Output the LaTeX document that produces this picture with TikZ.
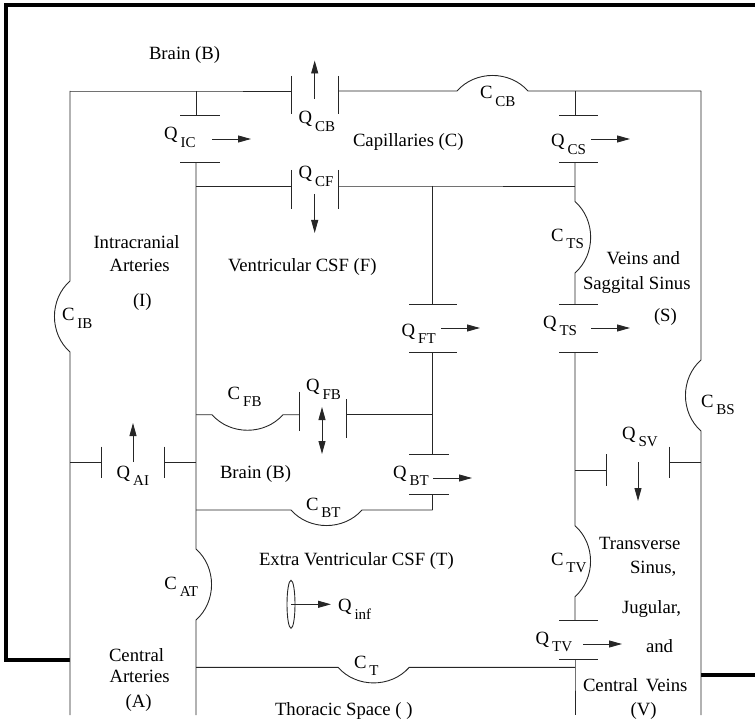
\documentclass[tikz,border=0pt]{standalone}
\usepackage{fontspec}
\setmainfont{Liberation Serif}
\usetikzlibrary{arrows.meta,shapes.geometric}
\newcommand{\subq}[2]{#1\hspace{3pt}\raisebox{-7.6pt}{\fontsize{15}{15}\selectfont #2}}
\tikzset{
  wire/.style={line width=0.9pt,black!85,line cap=butt,line join=miter},
  frame/.style={line width=4.2pt,black,line join=miter},
  flow/.style={line width=0.9pt,black!85,-{Triangle[length=13pt,width=7pt]}},
  twoflow/.style={line width=0.9pt,black!85,{Triangle[length=13pt,width=7pt]}-{Triangle[length=13pt,width=7pt]}},
  lab/.style={anchor=base west,inner sep=0pt,outer sep=0pt,font=\fontsize{18.7}{22}\selectfont},
  sagL/.style={bend left=48.5},
  sagR/.style={bend right=48.5}
}
\newcommand{\pp}[3]{\coordinate (#1) at (#2,#3);}
\newcommand{\tx}[4]{\node[lab] (#1) at (#2,#3) {#4};}
\newcommand{\ql}[5]{\node[lab] (#1) at (#2,#3) {\subq{#4}{#5}};}
\begin{document}
\begin{tikzpicture}[x=1pt,y=-1pt]
\useasboundingbox (0,0) rectangle (755,722);
% frame
\pp{fa}{755}{4.7}\pp{fb}{6.3}{4.7}\pp{fc}{6.3}{659.7}\pp{fd}{70}{659.7}\pp{fe}{701}{675}\pp{ff}{755}{675}
\draw[frame] (fa) -- (fb) -- (fc) -- (fd);
\draw[frame] (fe) -- (ff);
% left rail (x=70)
\pp{ltop}{70}{91}\pp{ca1}{70}{281}\pp{ca2}{70}{352}\pp{lai}{70}{462.3}\pp{lbot}{70}{715}
\draw[wire] (ltop) -- (ca1) to[sagR] (ca2) -- (lai) -- (lbot);
% top rail
\pp{icT}{196}{91}\pp{cbL}{291}{91}\pp{cbR}{338}{91}\pp{ccb1}{457}{91}\pp{ccb2}{528}{91}\pp{csT}{575}{91}\pp{rtop}{701}{91}
\draw[wire] (ltop) -- (icT) -- (cbL);
\draw[wire] (cbR) -- (ccb1) to[sagL] (ccb2) -- (csT) -- (rtop);
\pp{cbL1}{291}{76}\pp{cbL2}{291}{114.5}\pp{cbR1}{338}{76}\pp{cbR2}{338}{114.5}
\draw[wire] (cbL1) -- (cbL2);
\draw[wire] (cbR1) -- (cbR2);
% right rail
\pp{cbs1}{701}{360}\pp{cbs2}{701}{431}\pp{rsv}{701}{462.3}\pp{rbot}{701}{715}
\draw[wire] (rtop) -- (cbs1) to[sagR] (cbs2) -- (rsv) -- (rbot);
% Q_IC
\pp{ic1}{196}{115}\pp{ic1a}{180}{115}\pp{ic1b}{220}{115}\pp{ic2}{196}{162.5}\pp{ic2a}{180}{162.5}\pp{ic2b}{220}{162.5}
\draw[wire] (icT) -- (ic1);
\draw[wire] (ic1a) -- (ic1b);
\draw[wire] (ic2a) -- (ic2b);
% centre-left rail (x=196)
\pp{cf0}{196}{186}\pp{fb0}{196}{414.7}\pp{ai0}{196}{462.3}\pp{bt0}{196}{510}\pp{cat1}{196}{549}\pp{cat2}{196}{620}\pp{t0}{196}{667.3}\pp{mbot}{196}{715}
\draw[wire] (ic2) -- (cf0) -- (fb0) -- (ai0) -- (bt0) -- (cat1) to[sagL] (cat2) -- (t0) -- (mbot);
% Q_CF
\pp{cfL}{291}{186}\pp{cfR}{338}{186}\pp{ftT}{432.7}{186}\pp{cs3}{575}{186}
\pp{cfL1}{291}{170}\pp{cfL2}{291}{209.5}\pp{cfR1}{338}{170}\pp{cfR2}{338}{209.5}
\draw[wire] (cf0) -- (cfL);
\draw[wire] (cfR) -- (ftT) -- (cs3);
\draw[wire] (cfL1) -- (cfL2);
\draw[wire] (cfR1) -- (cfR2);
% right-centre rail (x=575)
\pp{cs1}{575}{115}\pp{cs1a}{559}{115}\pp{cs1b}{598}{115}\pp{cs2}{575}{162.5}\pp{cs2a}{559}{162.5}\pp{cs2b}{598}{162.5}
\pp{cts1}{575}{201.5}\pp{cts2}{575}{273}\pp{ts1}{575}{304}\pp{ts1a}{559}{304}\pp{ts1b}{598}{304}
\pp{ts2}{575}{352}\pp{ts2a}{559}{352}\pp{ts2b}{598}{352}
\pp{sv0}{575}{470}\pp{ctv1}{575}{525.7}\pp{ctv2}{575}{596.7}\pp{tv1}{575}{620}\pp{tv1a}{559}{620}\pp{tv1b}{598}{620}
\pp{tv2}{575}{659.7}\pp{tv2a}{559}{659.7}\pp{tv2b}{598}{659.7}\pp{t1}{575}{667.3}\pp{vbot}{575}{715}
\draw[wire] (csT) -- (cs1);
\draw[wire] (cs1a) -- (cs1b);
\draw[wire] (cs2a) -- (cs2b);
\draw[wire] (cs2) -- (cs3) -- (cts1) to[sagL] (cts2) -- (ts1);
\draw[wire] (ts1a) -- (ts1b);
\draw[wire] (ts2a) -- (ts2b);
\draw[wire] (ts2) -- (sv0) -- (ctv1) to[sagL] (ctv2) -- (tv1);
\draw[wire] (tv1a) -- (tv1b);
\draw[wire] (tv2a) -- (tv2b);
\draw[wire] (tv2) -- (t1) -- (vbot);
% Q_FT, Q_BT column
\pp{ft1}{432.7}{304}\pp{ft1a}{409}{304}\pp{ft1b}{456.7}{304}\pp{ft2}{432.7}{352}\pp{ft2a}{409}{352}\pp{ft2b}{456.7}{352}
\pp{fbJ}{432.7}{414.7}\pp{bt1}{432.7}{454}\pp{bt1a}{409}{454}\pp{bt1b}{448.5}{454}\pp{bt2}{432.7}{494}\pp{bt2a}{409}{494}\pp{bt2b}{448.5}{494}\pp{btJ}{432.7}{510}
\draw[wire] (ftT) -- (ft1);
\draw[wire] (ft1a) -- (ft1b);
\draw[wire] (ft2a) -- (ft2b);
\draw[wire] (ft2) -- (fbJ) -- (bt1);
\draw[wire] (bt1a) -- (bt1b);
\draw[wire] (bt2a) -- (bt2b);
\draw[wire] (bt2) -- (btJ);
% C_BT
\pp{cbt1}{291}{510}\pp{cbt2}{362}{510}
\draw[wire] (bt0) -- (cbt1) to[sagR] (cbt2) -- (btJ);
% C_FB, Q_FB
\pp{cfb1}{212}{414.7}\pp{cfb2}{283}{414.7}\pp{fbL}{299}{414.7}\pp{fbR}{346}{414.7}
\pp{fbL1}{299}{391.7}\pp{fbL2}{299}{430.7}\pp{fbR1}{346}{399}\pp{fbR2}{346}{438}
\draw[wire] (fb0) -- (cfb1) to[sagR] (cfb2) -- (fbL);
\draw[wire] (fbL1) -- (fbL2);
\draw[wire] (fbR1) -- (fbR2);
\draw[wire] (fbR) -- (fbJ);
% Q_AI
\pp{aiL}{101}{462.3}\pp{aiR}{164.5}{462.3}\pp{aiL1}{101}{446.7}\pp{aiL2}{101}{478}\pp{aiR1}{164.5}{446.7}\pp{aiR2}{164.5}{478}
\draw[wire] (lai) -- (aiL);
\draw[wire] (aiR) -- (ai0);
\draw[wire] (aiL1) -- (aiL2);
\draw[wire] (aiR1) -- (aiR2);
% Q_SV
\pp{svL}{606.7}{470}\pp{svR}{669.7}{462.3}\pp{svL1}{606.7}{454}\pp{svL2}{606.7}{485.7}\pp{svR1}{669.7}{446.7}\pp{svR2}{669.7}{478}
\draw[wire] (sv0) -- (svL);
\draw[wire] (svR) -- (rsv);
\draw[wire] (svL1) -- (svL2);
\draw[wire] (svR1) -- (svR2);
% C_T
\pp{ct1}{338}{667.3}\pp{ct2}{409.3}{667.3}
\draw[wire] (t0) -- (ct1) to[sagR] (ct2) -- (t1);
% Q_inf source
\node[draw,line width=0.9pt,black!85,ellipse,minimum width=8pt,minimum height=48pt,inner sep=0pt] (leak) at (291,604.3) {};
% flow arrows
\pp{a1s}{212}{139}\pp{a1e}{251}{139}
\pp{a2s}{591}{139}\pp{a2e}{630}{139}
\pp{a3s}{314.7}{99}\pp{a3e}{314.7}{60.5}
\pp{a4s}{314.7}{194}\pp{a4e}{314.7}{233}
\pp{a5s}{441}{328}\pp{a5e}{480}{328}
\pp{a6s}{591}{328}\pp{a6e}{630}{328}
\pp{a7s}{433}{478}\pp{a7e}{472}{478}
\pp{a8s}{583}{644}\pp{a8e}{622}{644}
\pp{a9s}{133}{462}\pp{a9e}{133}{423}
\pp{a10s}{638}{462}\pp{a10e}{638}{501}
\pp{a11s}{322}{407}\pp{a11e}{322}{454}
\pp{a12e}{331}{604.3}
\draw[flow] (a1s) -- (a1e);
\draw[flow] (a2s) -- (a2e);
\draw[flow] (a3s) -- (a3e);
\draw[flow] (a4s) -- (a4e);
\draw[flow] (a5s) -- (a5e);
\draw[flow] (a6s) -- (a6e);
\draw[flow] (a7s) -- (a7e);
\draw[flow] (a8s) -- (a8e);
\draw[flow] (a9s) -- (a9e);
\draw[flow] (a10s) -- (a10e);
\draw[twoflow] (a11s) -- (a11e);
\draw[flow] (leak.center) -- (a12e);
% region text
\tx{t1a}{149}{60}{Brain (B)}
\tx{t2}{353}{147}{Capillaries (C)}
\tx{t3}{93.5}{248}{Intracranial}
\tx{t4}{109.5}{272}{Arteries}
\tx{t5}{133}{306}{(I)}
\tx{t6}{228}{272}{Ventricular CSF (F)}
\tx{t7}{606.7}{265}{Veins and}
\tx{t8}{583}{289}{Saggital Sinus}
\tx{t9}{654}{321}{(S)}
\tx{t10}{220}{478}{Brain (B)}
\tx{t11}{259}{565}{Extra Ventricular CSF (T)}
\tx{t12}{599}{549}{Transverse}
\tx{t13}{630}{573}{Sinus,}
\tx{t14}{622}{613}{Jugular,}
\tx{t15}{646}{652}{and}
\tx{t16}{583}{691}{Central\, Veins}
\tx{t17}{630.7}{715}{(V)}
\tx{t18}{109}{661}{Central}
\tx{t19}{109.5}{682.7}{Arteries}
\tx{t20}{125.7}{707}{(A)}
\tx{t21}{275}{715}{Thoracic Space ( )}
% element labels
\ql{qcb}{298.5}{123.5}{Q}{CB}
\ql{qic}{164}{139.5}{Q}{IC}
\ql{cib}{62}{320.7}{C}{IB}
\ql{qcf}{298.5}{179}{Q}{CF}
\ql{ccb}{480}{99}{C}{CB}
\ql{qcs}{551}{147}{Q}{CS}
\ql{cts}{551}{241}{C}{TS}
\ql{qts}{543}{328}{Q}{TS}
\ql{qft}{401.7}{336}{Q}{FT}
\ql{cfb}{227.7}{399.3}{C}{FB}
\ql{qfb}{306}{391.7}{Q}{FB}
\ql{qai}{116.7}{478}{Q}{AI}
\ql{cbs}{701}{407}{C}{BS}
\ql{qsv}{622}{439}{Q}{SV}
\ql{qbt}{393}{478}{Q}{BT}
\ql{cbt}{306}{510}{C}{BT}
\ql{cat}{164.3}{589}{C}{AT}
\ql{ctv}{551}{565}{C}{TV}
\ql{qtv}{535.7}{644}{Q}{TV}
\ql{ct}{354}{668}{C}{T}
\ql{qinf}{338}{611.7}{Q}{inf}
\end{tikzpicture}
\end{document}
